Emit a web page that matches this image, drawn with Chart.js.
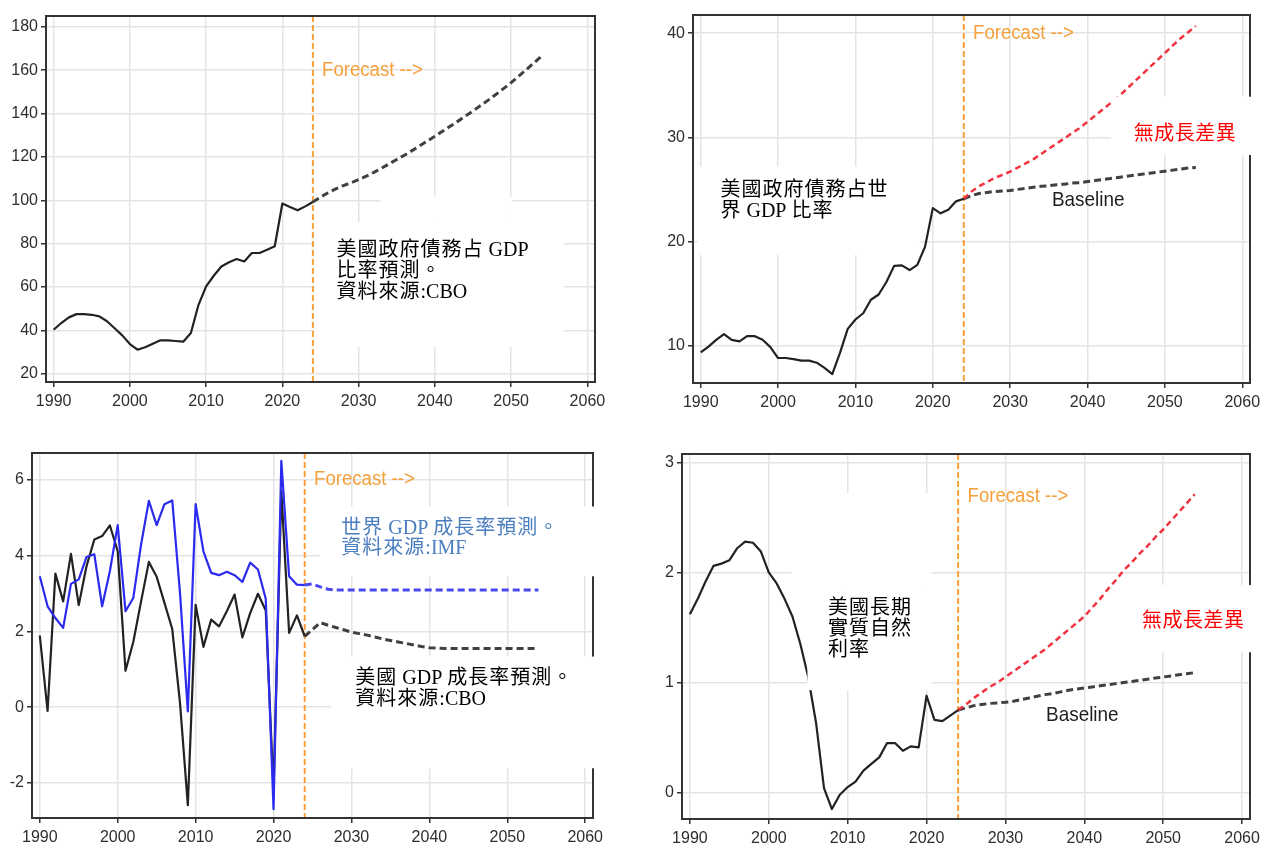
<!DOCTYPE html>
<html>
<head>
<meta charset="utf-8">
<script src="https://cdn.jsdelivr.net/npm/chart.js@4.4.1/dist/chart.umd.min.js"></script>
<style>
  body { margin: 0; background: #fff; }
  #wrap { position: relative; width: 1261px; height: 846px; overflow: hidden; background: #fff; }
  canvas { position: absolute; }
</style>
</head>
<body>
<div id="wrap">
  <canvas id="debt-gdp" width="620" height="420" style="left:0;top:0"></canvas>
  <canvas id="debt-world" width="631" height="420" style="left:630px;top:0"></canvas>
  <canvas id="growth" width="620" height="416" style="left:0;top:430px"></canvas>
  <canvas id="rate" width="631" height="416" style="left:630px;top:430px"></canvas>
</div>
<script>
// years
const histYears = [1990, 1991, 1992, 1993, 1994, 1995, 1996, 1997, 1998, 1999,
  2000, 2001, 2002, 2003, 2004, 2005, 2006, 2007, 2008, 2009,
  2010, 2011, 2012, 2013, 2014, 2015, 2016, 2017, 2018, 2019,
  2020, 2021, 2022, 2023, 2024];
const projYears = [2024, 2025, 2026, 2027, 2028, 2029, 2030, 2031, 2032, 2033,
  2034, 2035, 2036, 2037, 2038, 2039, 2040, 2041, 2042, 2043,
  2044, 2045, 2046, 2047, 2048, 2049, 2050, 2051, 2052, 2053, 2054];
const xTicks = [1990, 2000, 2010, 2020, 2030, 2040, 2050, 2060];
const forecastYear = 2024;

// US federal debt, % of GDP (CBO)
const debtGdpHist = [40.3, 43.4, 46.0, 47.5, 47.5, 47.2, 46.5, 44.2, 41.0, 37.7,
  33.7, 31.1, 32.2, 33.8, 35.4, 35.4, 35.1, 34.8, 38.8, 51.8,
  60.3, 65.2, 69.5, 71.4, 72.9, 71.8, 75.7, 75.7, 77.2, 78.8,
  98.5, 96.9, 95.4, 97.2, 99.2];
const debtGdpProj = [99.2, 101.5, 103.5, 105.3, 106.8, 108.1, 109.5, 111.1, 112.9, 114.8,
  116.8, 118.8, 120.8, 122.9, 125.1, 127.3, 129.5, 131.8, 134.1, 136.4,
  138.8, 141.2, 143.7, 146.2, 148.8, 151.5, 154.3, 157.3, 160.3, 163.4, 166.5];
const debtGdpTicks = [20, 40, 60, 80, 100, 120, 140, 160, 180];

// US federal debt, % of world GDP
const debtWorldHist = [9.35, 9.9, 10.55, 11.1, 10.55, 10.4, 10.9, 10.9, 10.55, 9.85,
  8.8, 8.8, 8.7, 8.55, 8.55, 8.35, 7.85, 7.25, 9.3, 11.6,
  12.5, 13.1, 14.4, 14.9, 16.1, 17.65, 17.7, 17.25, 17.75, 19.5,
  23.2, 22.7, 23.05, 23.85, 24.1];
const debtWorldNoGap = [24.1, 24.8, 25.3, 25.7, 26.1, 26.4, 26.7, 27.1, 27.5, 27.9,
  28.4, 28.9, 29.4, 29.9, 30.4, 30.9, 31.5, 32.1, 32.7, 33.3,
  33.9, 34.6, 35.3, 36.0, 36.7, 37.4, 38.1, 38.8, 39.5, 40.1, 40.7];
const debtWorldBase = [24.1, 24.4, 24.6, 24.7, 24.8, 24.85, 24.9, 25.0, 25.1, 25.2,
  25.3, 25.35, 25.45, 25.5, 25.6, 25.65, 25.75, 25.85, 25.95, 26.05,
  26.15, 26.25, 26.35, 26.45, 26.55, 26.65, 26.75, 26.85, 26.95, 27.05, 27.1];
const debtWorldTicks = [10, 20, 30, 40];

// real GDP growth, % (US: CBO, world: IMF)
const usGrowthHist = [1.89, -0.1, 3.52, 2.79, 4.04, 2.69, 3.72, 4.42, 4.51, 4.79,
  4.11, 0.96, 1.72, 2.79, 3.83, 3.44, 2.75, 2.06, 0.1, -2.58,
  2.7, 1.59, 2.31, 2.13, 2.53, 2.97, 1.84, 2.48, 2.99, 2.55,
  -2.2, 5.7, 1.96, 2.42, 1.87];
const usGrowthProj = [1.87, 2.05, 2.23, 2.16, 2.1, 2.04, 1.98, 1.94, 1.9, 1.85,
  1.8, 1.76, 1.72, 1.68, 1.64, 1.6, 1.57, 1.56, 1.55, 1.55,
  1.55, 1.55, 1.55, 1.55, 1.55, 1.55, 1.55, 1.55, 1.55, 1.55, 1.55];
const worldGrowthHist = [3.45, 2.66, 2.35, 2.09, 3.25, 3.37, 3.96, 4.03, 2.66, 3.59,
  4.8, 2.53, 2.88, 4.29, 5.44, 4.8, 5.35, 5.45, 3.0, -0.11,
  5.35, 4.11, 3.54, 3.48, 3.57, 3.48, 3.3, 3.81, 3.63, 2.86,
  -2.69, 6.49, 3.45, 3.23, 3.22];
const worldGrowthProj = [3.22, 3.25, 3.17, 3.11, 3.09, 3.09, 3.09, 3.09, 3.09, 3.09,
  3.09, 3.09, 3.09, 3.09, 3.09, 3.09, 3.09, 3.09, 3.09, 3.09,
  3.09, 3.09, 3.09, 3.09, 3.09, 3.09, 3.09, 3.09, 3.09, 3.09, 3.09];
const growthTicks = [-2, 0, 2, 4, 6];

// US long-run natural real rate, %
const rStarHist = [1.62, 1.76, 1.92, 2.06, 2.08, 2.11, 2.22, 2.28, 2.27, 2.19,
  2.0, 1.9, 1.76, 1.6, 1.35, 1.05, 0.63, 0.04, -0.15, -0.02,
  0.05, 0.1, 0.2, 0.26, 0.32, 0.45, 0.45, 0.38, 0.42, 0.41,
  0.88, 0.66, 0.65, 0.7, 0.75];
const rStarNoGap = [0.75, 0.8, 0.86, 0.91, 0.96, 1.0, 1.05, 1.1, 1.15, 1.2,
  1.25, 1.3, 1.36, 1.42, 1.48, 1.54, 1.6, 1.68, 1.76, 1.85,
  1.93, 2.02, 2.09, 2.17, 2.24, 2.32, 2.39, 2.47, 2.55, 2.63, 2.71];
const rStarBase = [0.75, 0.77, 0.79, 0.8, 0.81, 0.815, 0.82, 0.83, 0.845, 0.86,
  0.875, 0.89, 0.9, 0.915, 0.93, 0.94, 0.95, 0.96, 0.97, 0.98,
  0.99, 1.0, 1.01, 1.02, 1.03, 1.04, 1.05, 1.06, 1.07, 1.08, 1.09];
const rStarTicks = [0, 1, 2, 3];

const ORANGE = '#f5a03a';
const INK = '#222222';
const DASH_GREY = '#404040';
const RED = '#ef3340';
const BLUE = '#2b2bef';
const NOTE_FONT = '20px "Liberation Serif", "Noto Sans CJK TC", serif';
const LABEL_FONT = '20px "Liberation Sans", Arial, sans-serif';

function pts(xs, ys) {
  return xs.map((x, i) => ({ x: x, y: ys[i] }));
}

function line(data, color, width, dash) {
  return {
    data: data,
    borderColor: color,
    borderWidth: width,
    borderDash: dash || [],
    borderJoinStyle: 'round',
    pointRadius: 0,
    tension: 0,
    fill: false
  };
}

// writes one line; extra gap only after CJK characters so Latin stays tight
function writeLine(ctx, text, x, y, cjkGap) {
  let cx = x;
  for (const ch of text) {
    ctx.fillText(ch, cx, y);
    cx += ctx.measureText(ch).width;
    if (ch.charCodeAt(0) > 0x2e80) cx += cjkGap;
  }
}

// forecast marker, frame, white label patches and notes
function decor(cfg) {
  return {
    id: 'decor',
    beforeDatasetsDraw(chart) {
      const { ctx, chartArea, scales } = chart;
      const x = scales.x.getPixelForValue(forecastYear);
      ctx.save();
      ctx.strokeStyle = ORANGE;
      ctx.lineWidth = 2;
      ctx.setLineDash([6, 3]);
      ctx.beginPath();
      ctx.moveTo(x, chartArea.top);
      ctx.lineTo(x, chartArea.bottom);
      ctx.stroke();
      ctx.restore();
    },
    afterDatasetsDraw(chart) {
      const { ctx, chartArea, scales } = chart;
      ctx.save();
      ctx.strokeStyle = '#333';
      ctx.lineWidth = 2;
      ctx.strokeRect(chartArea.left, chartArea.top, chartArea.right - chartArea.left, chartArea.bottom - chartArea.top);

      ctx.fillStyle = '#fff';
      cfg.boxes.forEach(b => {
        const x0 = scales.x.getPixelForValue(b.x0);
        const x1 = scales.x.getPixelForValue(b.x1);
        const y0 = scales.y.getPixelForValue(b.y0);
        const y1 = scales.y.getPixelForValue(b.y1);
        ctx.fillRect(x0, y0, x1 - x0, y1 - y0);
      });

      cfg.notes.forEach(n => {
        const x = scales.x.getPixelForValue(n.x);
        const y = scales.y.getPixelForValue(n.y);
        ctx.font = n.font;
        ctx.fillStyle = n.color;
        ctx.textBaseline = 'middle';
        ctx.textAlign = 'left';
        n.lines.forEach((t, i) => {
          ctx.save();
          ctx.translate(x, y + i * (n.lineHeight || 0));
          ctx.scale(n.squeeze || 1, 1);
          writeLine(ctx, t, 0, 0, n.gap || 0);
          ctx.restore();
        });
      });
      ctx.restore();
    }
  };
}

function axes(p) {
  const grid = { color: '#e4e4e4', lineWidth: 1.5, tickColor: '#333', tickWidth: 1.5, tickLength: 5 };
  const tickFont = { family: '"Liberation Sans", Arial, sans-serif', size: 16 };
  return {
    x: {
      type: 'linear',
      min: 1989,
      max: 2061,
      afterBuildTicks: s => { s.ticks = xTicks.map(v => ({ value: v })); },
      afterFit: s => { s.height = p.xh; s.paddingLeft = 0; s.paddingRight = 0; },
      grid: grid,
      border: { display: false },
      ticks: { font: tickFont, color: '#2e2e2e', padding: 5, maxRotation: 0, autoSkip: false, callback: v => String(v) }
    },
    y: {
      type: 'linear',
      min: p.ymin,
      max: p.ymax,
      afterBuildTicks: s => { s.ticks = p.yTicks.map(v => ({ value: v })); },
      afterFit: s => { s.width = p.yw; s.paddingTop = 0; s.paddingBottom = 0; },
      grid: grid,
      border: { display: false },
      ticks: { font: tickFont, color: '#2e2e2e', padding: 3, autoSkip: false, callback: v => String(v) }
    }
  };
}

function makeChart(id, datasets, p, cfg) {
  return new Chart(document.getElementById(id), {
    type: 'line',
    data: { datasets: datasets },
    options: {
      responsive: false,
      animation: false,
      devicePixelRatio: 1,
      layout: { padding: { left: 0, top: p.top, right: p.right, bottom: 0 } },
      plugins: { legend: { display: false }, tooltip: { enabled: false } },
      scales: axes(p)
    },
    plugins: [decor(cfg)]
  });
}

function forecastNote(y) {
  return { x: 2025.2, y: y, lines: ['Forecast -->'], font: LABEL_FONT, color: ORANGE, squeeze: 0.93 };
}

function baselineNote(x, y) {
  return { x: x, y: y, lines: ['Baseline'], font: '21px "Liberation Sans", Arial, sans-serif', color: '#1e1e1e', squeeze: 0.9 };
}

// top left: debt / GDP
makeChart('debt-gdp', [
  line(pts(histYears, debtGdpHist), INK, 2.2),
  line(pts(projYears, debtGdpProj), DASH_GREY, 3, [7, 4])
], { ymin: 16.2, ymax: 185, yTicks: debtGdpTicks, yw: 46, xh: 38, top: 16, right: 25 }, {
  boxes: [
    { x0: 2024.3, x1: 2056.9, y0: 89.7, y1: 32.6 },
    { x0: 2032.9, x1: 2050.1, y0: 101.5, y1: 89.7 }
  ],
  notes: [
    forecastNote(160),
    { x: 2027.1, y: 76.8, lines: ['美國政府債務占 GDP', '比率預測。', '資料來源:CBO'], font: NOTE_FONT, color: '#000', lineHeight: 21, gap: 1 }
  ]
});

// top right: debt / world GDP
makeChart('debt-world', [
  line(pts(histYears, debtWorldHist), INK, 2.2),
  line(pts(projYears, debtWorldNoGap), RED, 2.5, [6, 4]),
  line(pts(projYears, debtWorldBase), DASH_GREY, 3, [7, 4])
], { ymin: 6.4, ymax: 41.75, yTicks: debtWorldTicks, yw: 63, xh: 37, top: 15, right: 11 }, {
  boxes: [
    { x0: 1989.6, x1: 2018.3, y0: 27.18, y1: 18.7 },
    { x0: 2043.05, x1: 2063.5, y0: 33.9, y1: 28.3 }
  ],
  notes: [
    forecastNote(40),
    { x: 1992.55, y: 24.84, lines: ['美國政府債務占世', '界 GDP 比率'], font: NOTE_FONT, color: '#000', lineHeight: 21, gap: 1 },
    { x: 2045.97, y: 30.28, lines: ['無成長差異'], font: NOTE_FONT, color: '#ff0000', gap: 0.5 },
    baselineNote(2035.4, 23.97)
  ]
});

// bottom left: GDP growth
makeChart('growth', [
  line(pts(histYears, worldGrowthHist), BLUE, 2.2),
  line(pts(projYears, worldGrowthProj), '#4848f0', 3, [7, 4]),
  line(pts(histYears, usGrowthHist), INK, 2.2),
  line(pts(projYears, usGrowthProj), DASH_GREY, 3, [7, 4])
], { ymin: -2.92, ymax: 6.7, yTicks: growthTicks, yw: 32, xh: 28, top: 23, right: 27 }, {
  boxes: [
    { x0: 2025.9, x1: 2061.4, y0: 5.29, y1: 3.45 },
    { x0: 2027.4, x1: 2061.4, y0: 1.335, y1: -1.61 }
  ],
  notes: [
    forecastNote(6),
    { x: 2028.7, y: 4.70, lines: ['世界 GDP 成長率預測。', '資料來源:IMF'], font: NOTE_FONT, color: '#4a7ebf', lineHeight: 20, gap: 1 },
    { x: 2030.5, y: 0.74, lines: ['美國 GDP 成長率預測。', '資料來源:CBO'], font: NOTE_FONT, color: '#000', lineHeight: 21, gap: 1 }
  ]
});

// bottom right: natural real rate
makeChart('rate', [
  line(pts(histYears, rStarHist), INK, 2.2),
  line(pts(projYears, rStarNoGap), RED, 2.5, [6, 4]),
  line(pts(projYears, rStarBase), DASH_GREY, 3, [7, 4])
], { ymin: -0.24, ymax: 3.076, yTicks: rStarTicks, yw: 52, xh: 27, top: 24, right: 11 }, {
  boxes: [
    { x0: 2002.9, x1: 2020.6, y0: 2.72, y1: 1.84 },
    { x0: 2004.9, x1: 2020.6, y0: 1.84, y1: 0.93 },
    { x0: 2044.05, x1: 2063.5, y0: 1.885, y1: 1.275 }
  ],
  notes: [
    forecastNote(2.69),
    { x: 2007.5, y: 1.673, lines: ['美國長期', '實質自然', '利率'], font: NOTE_FONT, color: '#000', lineHeight: 21, gap: 1 },
    { x: 2047.3, y: 1.551, lines: ['無成長差異'], font: NOTE_FONT, color: '#ff0000', gap: 0.5 },
    baselineNote(2035.15, 0.703)
  ]
});
</script>
</body>
</html>
